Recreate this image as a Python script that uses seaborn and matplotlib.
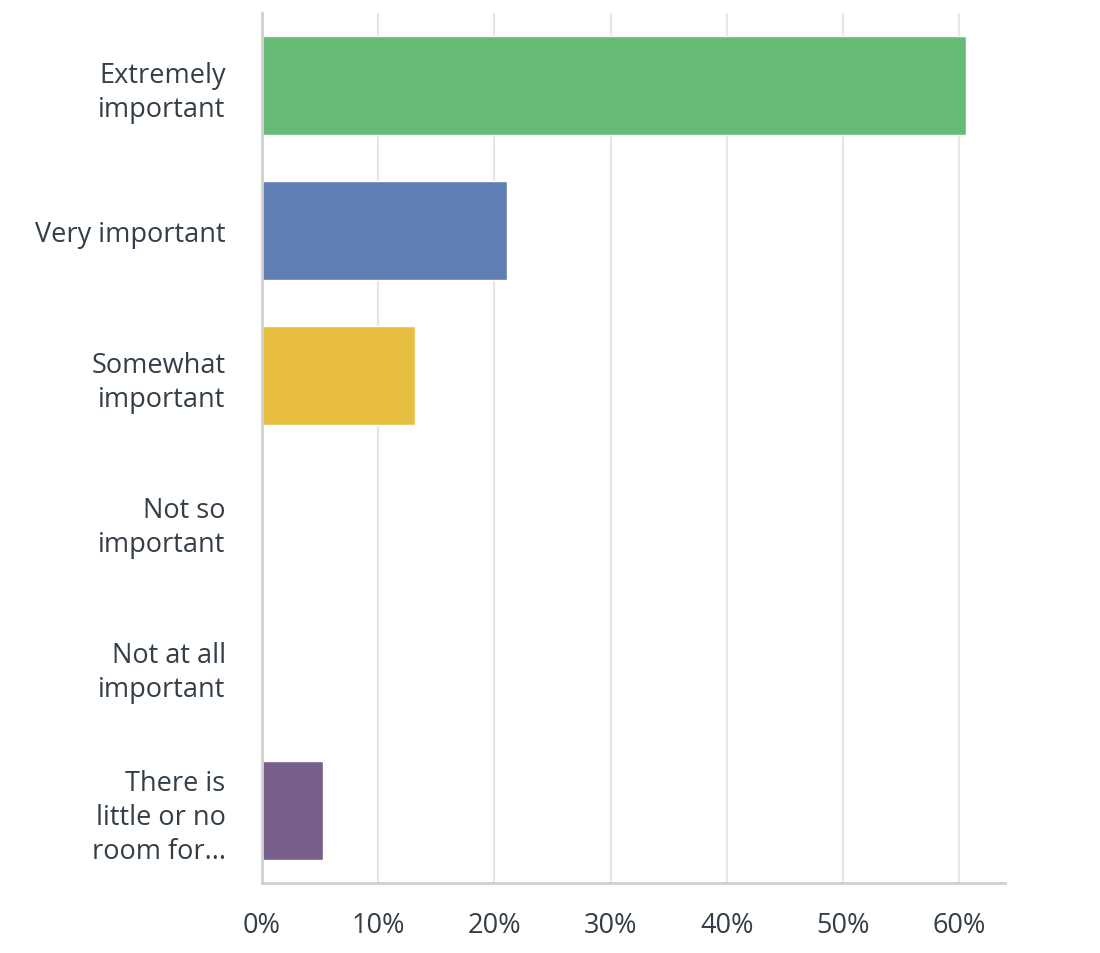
import matplotlib
matplotlib.use("Agg")
import pandas as pd
from matplotlib import pyplot as plt
from matplotlib.ticker import FuncFormatter

import seaborn as sns

categories = ['Extremely\nimportant',
              'Very important',
              'Somewhat\nimportant',
              'Not so\nimportant',
              'Not at all\nimportant',
              'There is\nlittle or no\nroom for...']
percents = [60.53, 21.05, 13.16, 0.0, 0.0, 5.26]
bar_colors = ['#66BB76',  # green
              '#5F7EB3',  # blue
              '#E8BE40',  # yellow
              '#9C9C9C',
              '#9C9C9C',
              '#765F8A']  # purple

df = pd.DataFrame({'answer': categories, 'pct': percents})

sns.set_style('white')
plt.rcParams['font.family'] = ['Open Sans', 'DejaVu Sans']

fig = plt.figure(figsize=(11, 9.54), dpi=100)
ax = fig.add_axes([0.238, 0.0734, 0.6755, 0.912])

sns.barplot(data=df, x='pct', y='answer', hue='answer', palette=bar_colors,
            legend=False, width=0.68, ax=ax, saturation=1)

ax.set_xlim(0, 63.9)
ax.set_ylim(5.5, -0.5)
ax.set_xticks([0, 10, 20, 30, 40, 50, 60])
ax.xaxis.set_major_formatter(FuncFormatter(lambda v, p: f'{v:.0f}%'))
ax.grid(axis='x', color='#e6e6e6', linewidth=1.6)
ax.set_axisbelow(True)
ax.set_xlabel('')
ax.set_ylabel('')

for s in ['top', 'right']:
    ax.spines[s].set_visible(False)
ax.spines['left'].set_color('#d0d0d0')
ax.spines['left'].set_linewidth(2)
ax.spines['bottom'].set_color('#cfcfcf')
ax.spines['bottom'].set_linewidth(2)

ax.tick_params(axis='both', length=0, labelsize=19.5, colors='#333e48')
ax.tick_params(axis='y', pad=26)
ax.tick_params(axis='x', pad=20)
for lab in ax.get_yticklabels():
    lab.set_horizontalalignment('right')
    lab.set_linespacing(1.3)

fig.savefig('out.png', dpi=100, facecolor='white')
